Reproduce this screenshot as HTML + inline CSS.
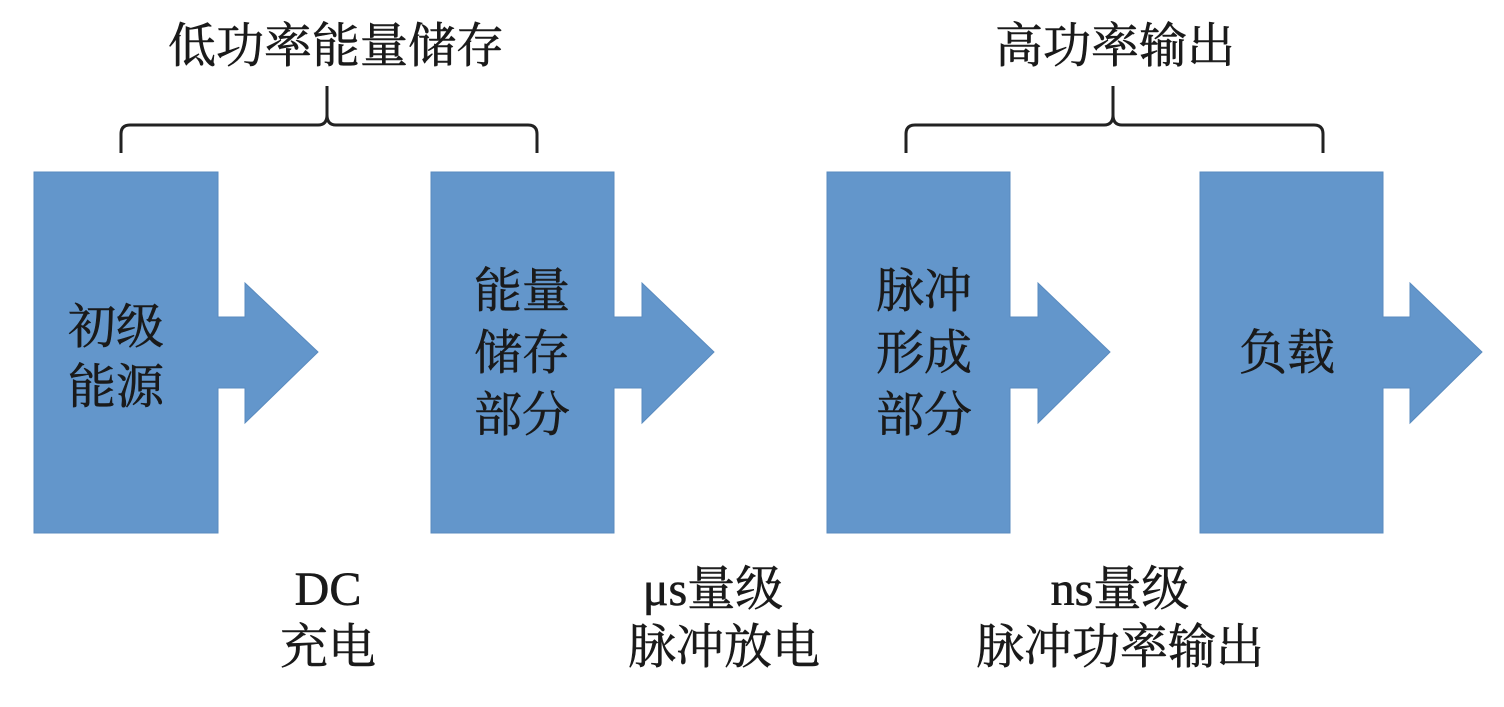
<!DOCTYPE html>
<html><head><meta charset="utf-8"><style>
html,body{margin:0;padding:0;background:#fff;width:1504px;height:707px;overflow:hidden}
text{font-family:"Liberation Serif","Noto Serif CJK SC",serif;fill:#1a1a1a;stroke:#1a1a1a;stroke-width:0.6}
</style></head><body>
<svg width="1504" height="707" viewBox="0 0 1504 707" xmlns="http://www.w3.org/2000/svg">
<g fill="#6396cb" stroke="#5a8bbf" stroke-width="1">
<polygon points="34,172 218,172 218,317 245,317 245,283 318,352 245,423 245,388 218,388 218,533 34,533"/>
<polygon points="431,172 614,172 614,317 642,317 642,283 714,352 642,423 642,388 614,388 614,533 431,533"/>
<polygon points="827,172 1010,172 1010,317 1038,317 1038,283 1110,352 1038,423 1038,388 1010,388 1010,533 827,533"/>
<polygon points="1200,172 1383,172 1383,317 1410,317 1410,283 1482,352 1410,423 1410,388 1383,388 1383,533 1200,533"/>
</g>
<g fill="none" stroke="#222" stroke-width="3">
<path d="M121,153 V134 Q121,125 130,125 H318 Q327,125 327,115 V86 M327,115 Q327,125 336,125 H528 Q537,125 537,134 V153"/>
<path d="M906,153 V134 Q906,125 915,125 H1104 Q1113,125 1113,115 V86 M1113,115 Q1113,125 1122,125 H1314 Q1323,125 1323,134 V153"/>
</g>
<g font-size="48" text-anchor="middle">
<text x="336" y="62">低功率能量储存</text>
<text x="1115" y="62">高功率输出</text>
<text x="116" y="343">初级</text>
<text x="116" y="403">能源</text>
<text x="522" y="307">能量</text>
<text x="522" y="369">储存</text>
<text x="522" y="431">部分</text>
<text x="924" y="307">脉冲</text>
<text x="924" y="369">形成</text>
<text x="924" y="431">部分</text>
<text x="1287" y="369">负载</text>
<text x="328" y="605">DC</text>
<text x="328" y="663">充电</text>
<text x="713" y="605">μs量级</text>
<text x="724" y="663">脉冲放电</text>
<text x="1120" y="605">ns量级</text>
<text x="1120" y="663">脉冲功率输出</text>
</g>
</svg>
</body></html>
